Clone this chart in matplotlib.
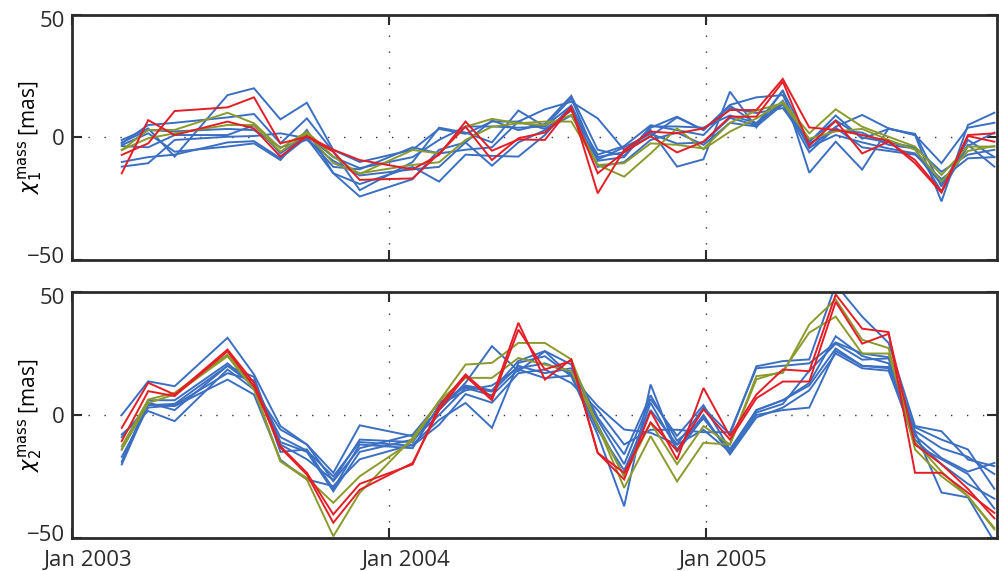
import matplotlib
matplotlib.use("Agg")
import matplotlib.pyplot as plt
import matplotlib.transforms as mtransforms
import numpy as np

# month index counted from Jan 2003 (two months have no solution)
months = [1.9, 2.9, 3.9, 5.9, 6.9, 7.9, 8.9, 9.9, 10.9, 12.9, 13.9, 14.9,
          15.9, 16.9, 17.9, 18.9, 19.9, 20.9, 21.9, 22.9, 23.9, 24.9, 25.9,
          26.9, 27.9, 28.9, 29.9, 30.9, 31.9, 32.9, 33.9, 34.9]

# chi_1 [mas]
chi1_blue = [
    [-1.0, 3.7, -7.8, 17.3, 20.1, 7.4, 14.2, -5.1, -10.0, -5.0, 3.5, 1.5, 6.5, 6.5, 11.5, 14.6,
     7.8, -5.1, 0.5, 8.2, 3.1, 13.3, 16.4, 17.3, -4.4, 4.4, 9.2, 3.7, 1.0, -10.5, 4.0, 6.0],
    [-2.4, 5.1, 6.0, 8.2, 9.6, -2.4, 7.8, -5.8, -21.5, -10.0, 4.0, 2.0, -2.0, 11.0, 4.5, 13.0,
     -8.0, -6.0, 3.0, -11.9, -8.9, 18.7, 4.1, 19.3, -14.4, -1.7, -13.1, 3.7, 1.0, -26.1, 5.1, 10.1],
    [-3.1, 1.7, -5.8, -3.7, -2.4, -9.2, 3.1, -14.6, -24.1, -17.0, -5.0, -2.0, -11.5, -2.0, 3.0, 9.0,
     -9.0, -4.0, 1.5, -2.5, -2.0, 8.0, 5.0, 15.0, -4.0, 1.0, -2.0, -4.5, -6.5, -19.0, -3.0, -11.9],
    [-11.9, -10.5, -1.0, 0.3, 0.6, 1.7, -0.3, -14.6, -19.0, -12.0, -18.0, -7.0, -7.5, -7.8, 1.0, 13.0,
     -12.0, -10.0, -1.0, 2.0, -3.0, 6.0, 4.5, 13.5, -6.0, 4.0, -4.0, -5.5, -7.0, -17.0, -8.5, -8.0],
    [-3.5, -4.0, 1.0, 1.0, 5.0, -6.5, 1.0, -8.0, -12.5, -8.0, -1.0, 4.5, 4.5, 4.0, 4.5, 16.0,
     -9.5, -8.0, 4.5, 4.5, 4.0, 9.0, 6.0, 14.0, -1.5, 7.0, 0.0, -2.0, -4.0, -14.0, -7.0, -5.0],
    [-10.0, -8.0, -7.0, -2.0, -1.5, -8.5, 0.0, -12.0, -13.0, -4.0, -6.5, -5.0, -4.0, 6.5, 3.5, 11.0,
     -7.0, -3.5, 5.0, 3.0, 1.0, 12.0, 10.0, 12.0, -2.5, 3.0, 2.0, -3.0, -4.5, -22.0, -3.5, 2.0],
    [-2.0, 3.0, 2.5, 3.5, 3.0, -4.0, -1.0, -9.5, -15.5, -13.0, -12.0, -2.0, 7.0, 3.0, 5.5, 17.0,
     -5.0, -7.5, 4.0, 8.5, 3.0, 13.0, 5.5, 19.0, -2.0, 9.0, -0.5, 3.5, 1.5, -20.0, -1.0, -8.0],
]
chi1_olive = [
    [-5.1, 3.1, 3.1, 10.1, 5.8, -4.4, 2.4, -7.8, -14.9, -5.1, -6.5, 4.4, 7.6, 5.8, 6.5, 6.5,
     -11.2, -16.0, -6.5, 3.7, -4.8, 2.4, 7.8, 14.6, 1.7, 11.5, 4.4, 0.3, -3.7, -15.3, -3.7, -3.7],
    [-5.1, -0.3, 1.7, 5.1, 5.1, -5.8, 1.7, -10.5, -14.6, -11.2, -10.1, -1.0, 4.4, 5.8, 5.1, 9.2,
     -11.2, -10.5, -2.4, -3.0, -4.5, 6.0, 11.0, 14.0, -0.5, 2.5, 3.5, -1.0, -5.0, -18.0, -5.5, -3.5],
]
chi1_red = [
    [-14.6, 7.1, 1.0, 6.5, 3.7, -7.8, 0.6, -5.0, -9.2, -13.0, -7.1, 6.5, -5.4, -0.8, -1.0, 12.6,
     -22.8, -5.1, 2.4, 1.7, 3.7, 11.2, 11.2, 23.9, 4.1, 3.1, 1.0, -1.4, -10.5, -22.5, 0.6, -1.7],
    [-7.1, -2.4, 10.8, 12.3, 16.4, -2.4, 0.3, -5.8, -17.3, -16.7, -6.5, 4.4, -9.2, -0.3, 2.0, 11.5,
     -14.6, -6.0, 0.5, -6.1, -1.7, 8.5, 8.5, 22.8, -3.3, 6.8, -6.5, -1.7, -9.2, -22.1, 1.0, 1.7],
]

# chi_2 [mas]
chi2_blue = [
    [0.0, 13.7, 11.7, 31.4, 16.5, -4.5, -12.0, -23.5, -4.2, -8.6, 2.0, 13.1, 28.0, 17.8, 25.9, 15.8,
     3.6, -5.9, -7.2, -12.0, 2.9, -7.9, 19.8, 21.9, 22.6, 53.0, 40.0, 29.3, -4.5, -6.6, -18.1, -20.8],
    [-20.1, 4.3, 3.6, 14.4, 8.3, -18.2, -26.2, -28.9, -18.0, -12.0, -2.0, 4.9, -5.2, 21.2, 23.9, 15.8,
     -8.0, -37.1, 12.4, -15.0, -1.0, -15.5, 0.0, 2.0, 3.0, 26.0, 20.0, 19.0, -7.0, -31.5, -33.5, -51.5],
    [-7.9, 1.6, -2.5, 18.5, 10.4, -5.9, -12.0, -26.9, -13.5, -8.0, 5.0, 11.5, 9.5, 20.0, 17.0, 19.0,
     -2.0, -20.0, 6.5, -8.5, 4.0, -14.0, 1.0, 4.5, 18.0, 29.0, 22.5, 23.0, -8.5, -17.5, -23.0, -19.5],
    [-14.0, 5.0, 2.0, 20.0, 15.5, -15.0, -14.0, -30.0, -12.0, -13.5, 4.0, 10.0, 12.0, 19.0, 21.0, 17.0,
     -6.0, -22.5, 2.0, -12.0, -6.0, -15.0, 2.0, 6.0, 12.0, 27.0, 20.0, 19.5, -12.0, -18.0, -24.0, -38.0],
    [-17.0, 3.0, 4.0, 17.0, 14.0, -11.0, -15.0, -31.0, -15.0, -10.0, 0.0, 11.0, 8.0, 18.5, 15.0, 16.0,
     -4.0, -25.0, 5.0, -14.0, 0.0, -16.0, -1.0, 3.0, 10.0, 25.0, 19.0, 18.0, -10.0, -20.0, -28.0, -34.0],
    [-9.0, 4.0, 4.5, 20.0, 12.0, -9.0, -14.5, -25.0, -11.0, -12.5, -4.0, 8.5, 5.0, 17.0, 18.5, 13.0,
     2.0, -12.0, -6.0, -6.0, -7.0, -7.0, 19.0, 20.0, 21.0, 29.5, 25.0, 23.5, -5.0, -10.0, -14.0, -30.0],
    [-19.0, 6.0, 6.0, 21.0, 12.0, -12.0, -18.0, -26.5, -10.0, -11.0, 3.0, 12.0, 10.0, 22.0, 26.0, 20.5,
     -1.0, -16.0, 8.0, -10.5, -1.5, -14.0, 2.0, 6.0, 13.0, 32.0, 24.0, 21.0, -6.5, -13.5, -17.0, -24.0],
]
chi2_olive = [
    [-12.7, 6.3, 9.0, 24.6, 11.0, -18.8, -25.6, -35.7, -24.9, -10.6, 5.6, 15.1, 15.1, 23.2, 20.5, 17.8,
     -4.5, -24.9, -3.2, -20.0, -4.5, -12.0, 15.8, 17.1, 36.8, 47.0, 30.6, 27.2, -14.0, -24.9, -33.0, -45.9],
    [-14.0, 4.9, 8.3, 23.9, 10.4, -18.8, -26.2, -49.3, -31.6, -9.3, 5.6, 20.5, 21.2, 29.3, 29.3, 22.6,
     -4.5, -29.6, -8.6, -27.0, -11.3, -12.0, 14.5, 17.8, 33.5, 40.0, 25.0, 25.0, -11.0, -23.0, -33.0, -46.5],
]
chi2_red = [
    [-5.2, 13.1, 8.3, 26.6, 13.1, -12.7, -23.5, -40.4, -28.0, -20.1, 3.6, 16.5, 7.0, 37.5, 14.4, 22.6,
     -15.4, -26.2, 1.5, -18.1, 11.0, -8.6, 8.3, 18.5, 17.8, 49.0, 35.1, 33.7, -23.5, -23.5, -31.6, -39.8],
    [-10.6, 9.7, 7.7, 25.9, 11.7, -13.3, -24.2, -43.8, -30.4, -19.5, 2.0, 15.8, 6.0, 34.7, 18.5, 22.0,
     -15.4, -23.5, -3.0, -14.5, 2.3, -10.0, 6.8, 13.6, 13.6, 46.0, 29.0, 33.0, -12.0, -20.0, -30.0, -42.0],
]

year_ticks = [0, 12, 24]
year_labels = ["Jan 2003", "Jan 2004", "Jan 2005"]

BLUE = "#3b6fc2"
OLIVE = "#8c9a2c"
RED = "#e31e27"
SPINE = "#2b2b2b"

plt.rcParams["font.family"] = ["Open Sans", "DejaVu Sans"]
plt.rcParams["mathtext.fontset"] = "dejavusans"

fig = plt.figure(figsize=(9.99, 5.71), dpi=100)
ax1 = fig.add_axes([0.0716, 0.5447, 0.9264, 0.4290])
ax2 = fig.add_axes([0.0716, 0.0578, 0.9264, 0.4308])

panels = [
    (ax1, chi1_blue, chi1_olive, chi1_red, r"$\chi_1^{\mathrm{mass}}$ [mas]"),
    (ax2, chi2_blue, chi2_olive, chi2_red, r"$\chi_2^{\mathrm{mass}}$ [mas]"),
]

shift_up = mtransforms.ScaledTranslation(0, 5 / 100, fig.dpi_scale_trans)
shift_down = mtransforms.ScaledTranslation(0, -4 / 100, fig.dpi_scale_trans)

for ax, blues, olives, reds, ylab in panels:
    for s in blues:
        ax.plot(months, s, color=BLUE, lw=1.4, solid_joinstyle="miter")
    for s in olives:
        ax.plot(months, s, color=OLIVE, lw=1.4, solid_joinstyle="miter")
    for s in reds:
        ax.plot(months, s, color=RED, lw=1.4, solid_joinstyle="miter")

    ax.set_xlim(0.1, 35.0)
    ax.set_ylim(-50, 50)
    ax.set_yticks([-50, 0, 50])
    ax.set_yticklabels(["\u221250", "0", "50"])
    ax.set_xticks(year_ticks)

    ax.grid(True, color="#333333", lw=1.0, linestyle=(0, (1, 10.5)))
    ax.set_axisbelow(True)
    ax.tick_params(direction="in", length=7, width=1.5, colors=SPINE,
                   top=True, right=True, labelsize=16, pad=5)
    for sp in ax.spines.values():
        sp.set_color(SPINE)
        sp.set_linewidth(2.0)
    ylabels = ax.get_yticklabels()
    ylabels[0].set_transform(ylabels[0].get_transform() + shift_up)
    ylabels[2].set_transform(ylabels[2].get_transform() + shift_down)
    ax.set_ylabel(ylab, fontsize=15, labelpad=0)
    ax.yaxis.set_label_coords(-0.03, 0.5)

ax1.set_xticklabels([])
ax2.set_xticklabels(year_labels)
ax2.tick_params(axis="x", pad=9)
offset = mtransforms.ScaledTranslation(17 / 100, 0, fig.dpi_scale_trans)
for lab in ax2.get_xticklabels():
    lab.set_transform(lab.get_transform() + offset)

fig.savefig("out.png", dpi=100)
